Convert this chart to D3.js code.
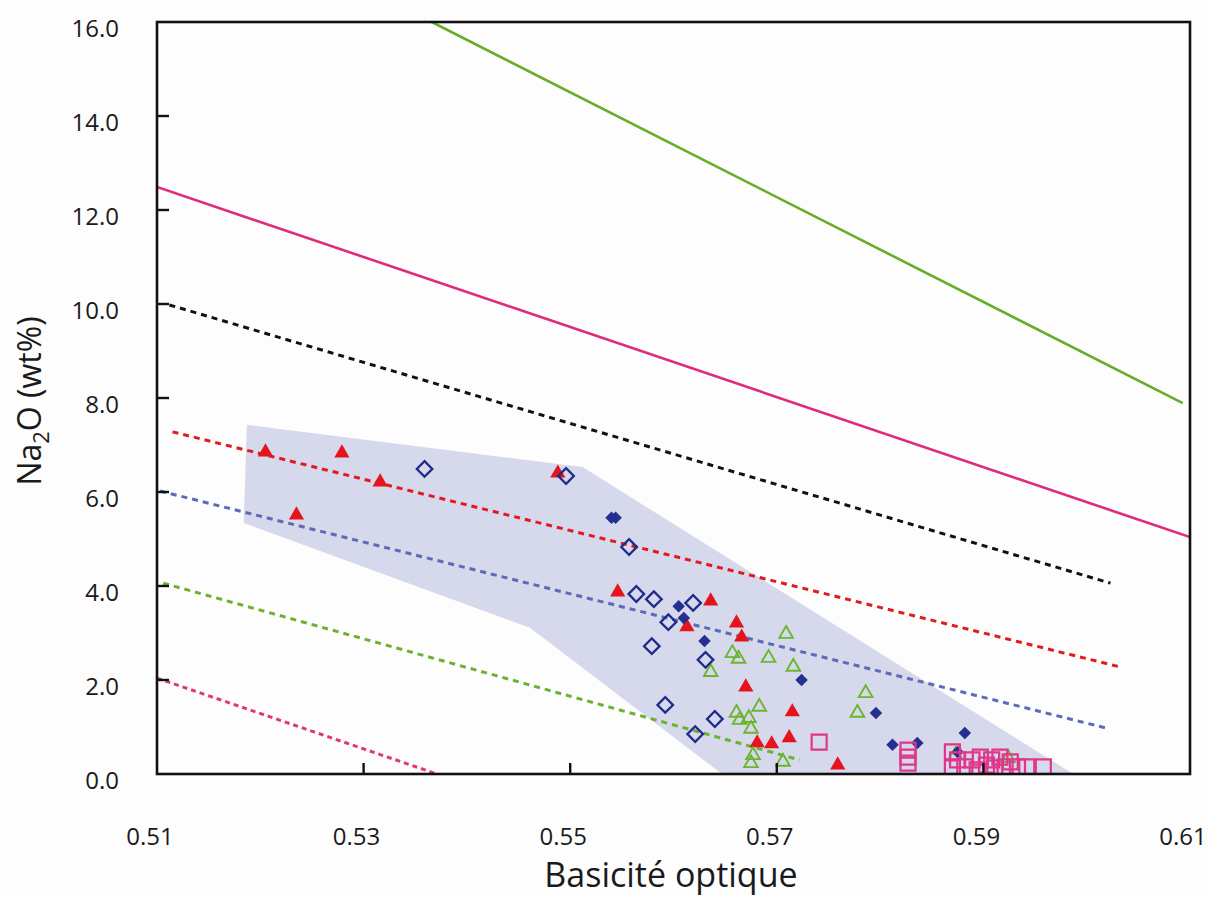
<!DOCTYPE html>
<html><head><meta charset="utf-8">
<script src="https://cdn.jsdelivr.net/npm/d3@7"></script>
<style>
html,body{margin:0;padding:0;background:#fdfdfd;}
svg{display:block;}
text{font-family:"Open Sans","Liberation Sans",sans-serif;fill:#1a1a1a;}
</style></head>
<body>
<svg id="chart" width="1208" height="897"></svg>
<script>
// ---- data ----
const xTicks = [0.51, 0.53, 0.55, 0.57, 0.59, 0.61];
const yTicks = [0, 2, 4, 6, 8, 10, 12, 14, 16];
const xLabel = "Basicité optique";

// shaded field (x, Na2O)
const fieldPolygon = [[0.5187,7.43],[0.5512,6.53],[0.5987,0],[0.5647,0],[0.5461,3.11],[0.5184,5.34]];

// reference lines
const lineGreenSolid = [[0.5366,16.0],[0.6093,7.89]];
const lineMagentaSolid = [[0.51,12.49],[0.61,5.04]];
const lineBlackDash = [[0.5112,9.98],[0.6023,4.06]];
const lineRedDash = [[0.5115,7.28],[0.6032,2.28]];
const lineBlueDash = [[0.5103,6.02],[0.6022,0.96]];
const lineGreenDash = [[0.5106,4.06],[0.5722,0.30]];
const linePinkDash = [[0.51,2.04],[0.5371,0.0]];

// series
const redTriangles = [[0.5205,6.85],[0.5279,6.83],[0.5316,6.21],[0.5235,5.51],[0.5488,6.40],[0.5546,3.87],[0.5613,3.13],[0.5636,3.68],[0.5661,3.21],[0.5666,2.91],[0.5670,1.85],[0.5681,0.66],[0.5695,0.64],[0.5712,0.77],[0.5715,1.32],[0.5759,0.19]];
const blueOpenDiamonds = [[0.5359,6.49],[0.5496,6.34],[0.5557,4.83],[0.5564,3.83],[0.5581,3.72],[0.5619,3.64],[0.5595,3.23],[0.5579,2.72],[0.5631,2.43],[0.5592,1.47],[0.5640,1.17],[0.5621,0.85]];
const blueFilledDiamonds = [[0.5540,5.45],[0.5544,5.45],[0.5605,3.57],[0.5610,3.32],[0.5630,2.83],[0.5724,2.00],[0.5796,1.30],[0.5812,0.62],[0.5836,0.66],[0.5882,0.87],[0.5875,0.47]];
const greenOpenTriangles = [[0.5709,2.98],[0.5657,2.57],[0.5663,2.45],[0.5692,2.47],[0.5716,2.28],[0.5636,2.17],[0.5683,1.43],[0.5661,1.30],[0.5664,1.15],[0.5673,1.19],[0.5675,0.96],[0.5677,0.40],[0.5675,0.23],[0.5706,0.26],[0.5786,1.72],[0.5778,1.30],[0.5873,0.40],[0.5924,0.34]];
const pinkSquares = [[0.5741,0.68],[0.5827,0.51],[0.5827,0.36],[0.5827,0.23],[0.5870,0.47],[0.5870,0.13],[0.5875,0.30],[0.5882,0.15],[0.5889,0.30],[0.5894,0.09],[0.5897,0.36],[0.5903,0.19],[0.5908,0.30],[0.5911,0.13],[0.5916,0.36],[0.5921,0.15],[0.5926,0.26],[0.5933,0.15],[0.5942,0.15],[0.5958,0.15]];

// ---- layout ----
const L = 157, R = 1190, T = 22, B = 774;
const svg = d3.select("#chart");
const x = d3.scaleLinear().domain([0.51, 0.61]).range([L, R]);
const y = d3.scaleLinear().domain([0, 16]).range([B, T]);

const clipId = "plotclip";
svg.append("defs").append("clipPath").attr("id", clipId)
  .append("rect").attr("x", L).attr("y", T).attr("width", R - L).attr("height", B - T);

const plot = svg.append("g").attr("clip-path", `url(#${clipId})`);

// field
plot.append("path")
  .attr("d", d3.line().x(d => x(d[0])).y(d => y(d[1]))(fieldPolygon) + "Z")
  .attr("fill", "#d6d8eb");

const line = d3.line().x(d => x(d[0])).y(d => y(d[1]));
const lines = [
  {d: lineGreenSolid, c: "#67ad2a", w: 2.6, dash: null},
  {d: lineMagentaSolid, c: "#df2a7d", w: 2.6, dash: null},
  {d: lineBlackDash, c: "#111", w: 3, dash: "6,5"},
  {d: lineRedDash, c: "#e3191c", w: 3, dash: "6,5"},
  {d: lineBlueDash, c: "#5b6bb8", w: 3, dash: "6,5"},
  {d: lineGreenDash, c: "#6ab22f", w: 3, dash: "6,5"},
  {d: linePinkDash, c: "#e0357f", w: 3, dash: "5,4"}
];
lines.forEach(l => {
  plot.append("path").attr("d", line(l.d)).attr("fill", "none")
    .attr("stroke", l.c).attr("stroke-width", l.w)
    .attr("stroke-dasharray", l.dash);
});

// markers
const tri = d3.symbol().type(d3.symbolTriangle);
const sq = d3.symbol().type(d3.symbolSquare);

plot.append("g").selectAll("path").data(redTriangles).join("path")
  .attr("transform", d => `translate(${x(d[0])},${y(d[1])})`)
  .attr("d", tri.size(100)()).attr("fill", "#e3141b");

plot.append("g").selectAll("path").data(greenOpenTriangles).join("path")
  .attr("transform", d => `translate(${x(d[0])},${y(d[1])})`)
  .attr("d", tri.size(80)()).attr("fill", "none").attr("stroke", "#6cb52f").attr("stroke-width", 1.9);

plot.append("g").selectAll("path").data(blueOpenDiamonds).join("path")
  .attr("transform", d => `translate(${x(d[0])},${y(d[1])}) rotate(45)`)
  .attr("d", sq.size(121)()).attr("fill", "none").attr("stroke", "#1f2b8c").attr("stroke-width", 2.3);

plot.append("g").selectAll("path").data(blueFilledDiamonds).join("path")
  .attr("transform", d => `translate(${x(d[0])},${y(d[1])}) rotate(45)`)
  .attr("d", sq.size(78)()).attr("fill", "#23308f");

plot.append("g").selectAll("path").data(pinkSquares).join("path")
  .attr("transform", d => `translate(${x(d[0])},${y(d[1])})`)
  .attr("d", sq.size(225)()).attr("fill", "none").attr("stroke", "#e0378a").attr("stroke-width", 2.2);

// frame
svg.append("rect").attr("x", L).attr("y", T).attr("width", R - L).attr("height", B - T)
  .attr("fill", "none").attr("stroke", "#111").attr("stroke-width", 2.6);

// ticks (inward)
svg.append("g").selectAll("line").data(yTicks.filter(v => v > 0 && v < 16)).join("line")
  .attr("x1", L).attr("x2", L + 12).attr("y1", d => y(d)).attr("y2", d => y(d))
  .attr("stroke", "#111").attr("stroke-width", 2.4);
svg.append("g").selectAll("line").data(xTicks.filter(v => v > 0.51 && v < 0.61)).join("line")
  .attr("y1", B).attr("y2", B - 11).attr("x1", d => x(d)).attr("x2", d => x(d))
  .attr("stroke", "#111").attr("stroke-width", 2.4);

// tick labels
svg.append("g").selectAll("text").data(yTicks).join("text")
  .attr("x", 119).attr("y", d => y(d) + 15).attr("text-anchor", "end")
  .attr("font-size", 24).text(d => d.toFixed(1));
svg.append("g").selectAll("text").data(xTicks).join("text")
  .attr("x", d => x(d) - 7).attr("y", 845).attr("text-anchor", "middle")
  .attr("font-size", 24).text(d => d.toFixed(2));

// axis titles
svg.append("text").attr("x", 671).attr("y", 887).attr("text-anchor", "middle")
  .attr("font-size", 34).text(xLabel);
const yt = svg.append("text").attr("transform", "translate(41,401) rotate(-90)")
  .attr("text-anchor", "middle").attr("font-size", 32);
yt.append("tspan").text("Na");
yt.append("tspan").attr("font-size", 22).attr("dy", 8).text("2");
yt.append("tspan").attr("dy", -8).text("O (wt%)");
</script>
</body></html>
